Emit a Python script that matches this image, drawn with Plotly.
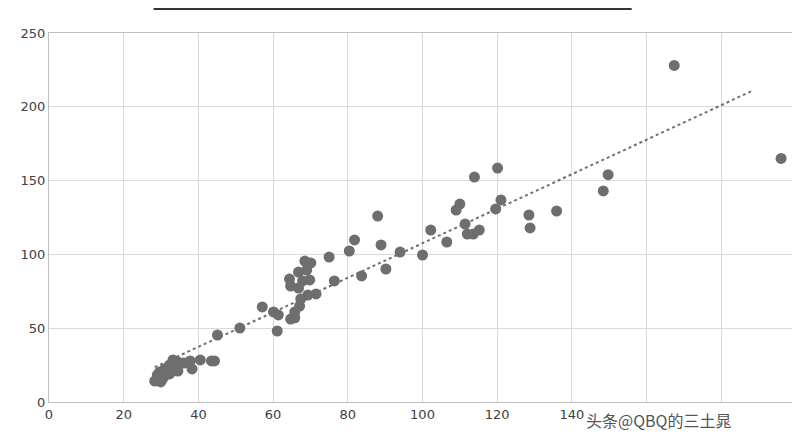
import numpy as np
import plotly.graph_objects as go

# scatter data
x_vals = [167.4, 196, 149.7, 148.4, 135.9, 128.5, 128.8, 120.1, 121, 119.6,
          113.9, 115.2, 113.6, 112, 111.4, 110, 109, 106.5, 102.2, 100,
          94, 90.2, 88.9, 88, 83.7, 81.8, 80.4, 76.4, 75, 71.5,
          70.1, 69, 68.5, 69.8, 69.3, 67.9, 66.8, 66.8, 67.4, 65.8,
          65.8, 67.1, 64.4, 64.7, 64.7, 61.4, 60.1, 61.1, 57.1, 51.1,
          45.1, 44.3, 43.5, 40.5, 38.3, 36.1, 37.8, 34.5, 33.7, 32.1,
          33.2, 31, 29.6, 30.4, 28.3, 29, 31.2, 29.9, 32.3, 34.5]
y_vals = [228, 165, 154, 143, 129.4, 126.7, 117.9, 158.5, 136.9, 130.8,
          152.4, 116.5, 113.8, 113.8, 120.6, 134.1, 130, 108.4, 116.5, 99.6,
          101.6, 90.1, 106.4, 126, 85.4, 109.8, 102.3, 82, 98.2, 73.2,
          94.2, 89.4, 95.5, 82.7, 72.5, 82, 88, 77.2, 69.8, 61,
          57, 65, 83.3, 78.6, 56.2, 59, 61, 48.1, 64.4, 50.1,
          45.4, 27.8, 27.8, 28.5, 22.4, 26.4, 27.8, 27.1, 23, 24.4,
          28.5, 22.4, 20.3, 15.6, 14.2, 18.3, 18.3, 13.6, 19, 21]
x_ticks = [0, 20, 40, 60, 80, 100, 120, 140, 160, 180, 200]
# 160-200 are hidden under the watermark in the original
x_labels = ['0', '20', '40', '60', '80', '100', '120', '140', '', '', '']
y_ticks = [0, 50, 100, 150, 200, 250]

slope, icpt = np.polyfit(x_vals, y_vals, 1)
fit_x = [min(x_vals), 188]
fit_y = [slope * v + icpt for v in fit_x]

fig = go.Figure()
fig.add_trace(go.Scatter(x=fit_x, y=fit_y, mode='lines',
                         line=dict(color='#707070', width=2, dash='dot')))
fig.add_trace(go.Scatter(x=x_vals, y=y_vals, mode='markers',
                         marker=dict(color='#6e6e6e', size=11)))

fig.update_layout(
    width=800, height=440,
    margin=dict(l=41, r=12, t=25, b=46),
    plot_bgcolor='white', paper_bgcolor='white',
    showlegend=False,
    font=dict(family='DejaVu Sans', size=13, color='#404040'),
    xaxis=dict(range=[0, 200], tickvals=x_ticks, ticktext=x_labels, showgrid=True,
               gridcolor='#d9d9d9', zeroline=False, showline=True,
               linecolor='#bfbfbf', mirror=True),
    yaxis=dict(range=[0, 250], tickvals=y_ticks, showgrid=True,
               gridcolor='#d9d9d9', zeroline=False, showline=True,
               linecolor='#bfbfbf', mirror=True),
    shapes=[dict(type='line', xref='paper', yref='paper', x0=0.14, x1=0.78,
                 y0=1.065, y1=1.065, line=dict(color='#333333', width=2))],
    annotations=[dict(text='头条@QBQ的三土晁', xref='paper', yref='paper',
                      x=0.915, y=-0.05, yanchor='middle', showarrow=False,
                      font=dict(family='Noto Sans CJK SC', size=16, color='#555555'))],
)

fig.write_html("out.html")
